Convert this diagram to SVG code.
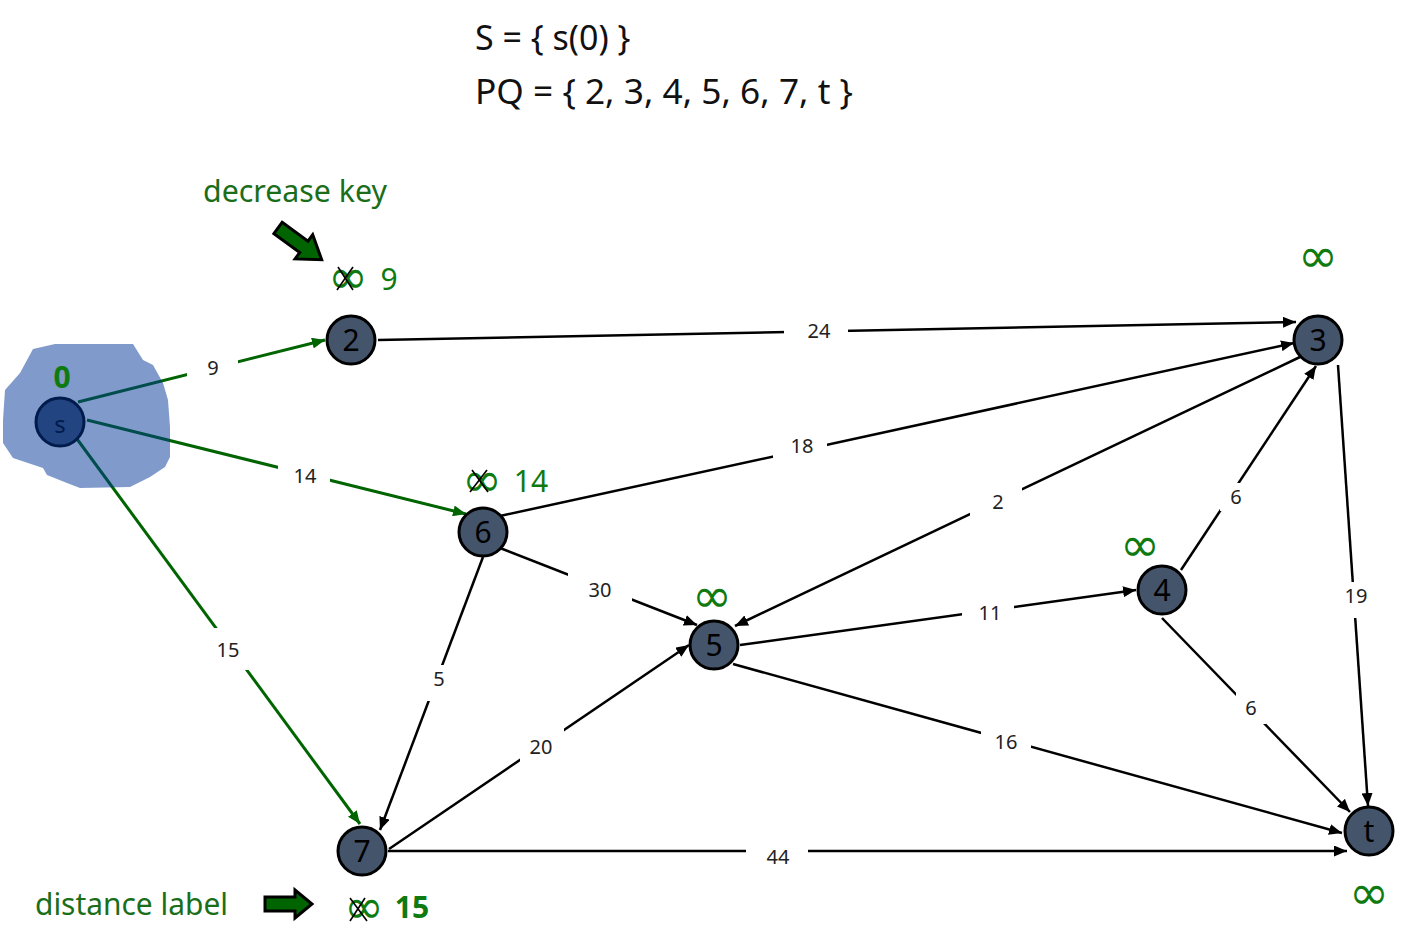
<svg xmlns="http://www.w3.org/2000/svg" width="1408" height="951" viewBox="0 0 1408 951">
<style>
.title{font-family:"Noto Sans","Liberation Sans",sans-serif;font-size:34px;fill:#111}
.note{font-family:"Noto Sans","Liberation Sans",sans-serif;font-size:30px;fill:#1a6e1a}
.e{stroke:#000;stroke-width:2.5;fill:none;marker-end:url(#ah)}
.g{stroke:#006400;stroke-width:3;fill:none;marker-end:url(#gh)}
.lbg{fill:#fff}
.lbl{font-family:"Noto Sans","Liberation Sans",sans-serif;font-size:20px;fill:#222;text-anchor:middle}
.node circle{fill:#44546A;stroke:#000;stroke-width:3}
.node text{font-family:"Noto Sans","Liberation Sans",sans-serif;font-size:30px;fill:#000;text-anchor:middle}
.inf{font-family:"DejaVu Sans",sans-serif;font-size:48px;fill:#0f7a0f;text-anchor:middle}
.dist{font-family:"Noto Sans","Liberation Sans",sans-serif;font-size:30px;fill:#0f7a0f;text-anchor:middle}
.x{stroke:#000;stroke-width:1.6}
.fat{fill:#006400;stroke:#000;stroke-width:3;stroke-linejoin:miter}
</style>
<defs>
<marker id="ah" markerUnits="userSpaceOnUse" markerWidth="13" markerHeight="11" refX="13" refY="5.5" orient="auto"><path d="M0,0 L13,5.5 L0,11 z" fill="#000"/></marker>
<marker id="gh" markerUnits="userSpaceOnUse" markerWidth="13" markerHeight="11" refX="13" refY="5.5" orient="auto"><path d="M0,0 L13,5.5 L0,11 z" fill="#006400"/></marker>
</defs>
<rect width="1408" height="951" fill="#fff"/>

<g id="title">
<text class="title" x="475" y="50">S = { s(0) }</text>
<text class="title" x="475" y="104" textLength="378" lengthAdjust="spacingAndGlyphs">PQ = { 2, 3, 4, 5, 6, 7, t }</text>
</g>

<g id="connectors">
<line class="g" x1="78" y1="402" x2="325" y2="340"/>
<line class="g" x1="87" y1="420" x2="466" y2="514"/>
<line class="g" x1="77" y1="439" x2="360" y2="824"/>
<line class="e" x1="378" y1="340" x2="1296" y2="322"/>
<line class="e" x1="500" y1="516" x2="1294" y2="343"/>
<line class="e" x1="1300" y1="357" x2="735" y2="626"/>
<line class="e" x1="500" y1="548" x2="697" y2="625"/>
<line class="e" x1="483" y1="557" x2="380" y2="830"/>
<line class="e" x1="389" y1="849" x2="689" y2="645"/>
<line class="e" x1="740" y1="645" x2="1136" y2="590"/>
<line class="e" x1="1181" y1="570" x2="1316" y2="366"/>
<line class="e" x1="1338" y1="365" x2="1368" y2="806"/>
<line class="e" x1="1162" y1="618" x2="1350" y2="812"/>
<line class="e" x1="733" y1="664" x2="1342" y2="833"/>
<line class="e" x1="388" y1="851" x2="1347" y2="851"/>
<g id="edge-labels">
<rect class="lbg" x="187" y="352" width="51" height="30"/><text class="lbl" x="213" y="375">9</text>
<rect class="lbg" x="278" y="460" width="52" height="30"/><text class="lbl" x="305" y="483">14</text>
<rect class="lbg" x="206" y="628" width="44" height="42"/><text class="lbl" x="228" y="657">15</text>
<rect class="lbg" x="784" y="317" width="64" height="28"/><text class="lbl" x="819" y="338">24</text>
<rect class="lbg" x="773" y="432" width="54" height="28"/><text class="lbl" x="802" y="453">18</text>
<rect class="lbg" x="970" y="484" width="52" height="36"/><text class="lbl" x="998" y="509">2</text>
<rect class="lbg" x="568" y="572" width="64" height="36"/><text class="lbl" x="600" y="597">30</text>
<rect class="lbg" x="425" y="665" width="28" height="36"/><text class="lbl" x="439" y="686">5</text>
<rect class="lbg" x="520" y="728" width="44" height="36"/><text class="lbl" x="541" y="754">20</text>
<rect class="lbg" x="962" y="599" width="52" height="28"/><text class="lbl" x="990" y="620">11</text>
<rect class="lbg" x="1220" y="483" width="32" height="28"/><text class="lbl" x="1236" y="504">6</text>
<rect class="lbg" x="1338" y="582" width="38" height="36"/><text class="lbl" x="1356" y="603">19</text>
<rect class="lbg" x="1236" y="692" width="30" height="32"/><text class="lbl" x="1251" y="715">6</text>
<rect class="lbg" x="981" y="728" width="50" height="28"/><text class="lbl" x="1006" y="749">16</text>
<rect class="lbg" x="746" y="843" width="62" height="28"/><text class="lbl" x="778" y="864">44</text>
</g>
</g>

<g id="node-s" class="node"><circle cx="60" cy="422" r="24"/><text x="60" y="433" style="font-size:24px">s</text></g>
<g id="source-set"><path d="M33,349 L55,344 L133,344 L143,360 L153,365 L163,383 L168,400 L170,427 L170,457 L165,467 L150,477 L130,487 L80,488 L67,483 L47,475 L43,468 L13,458 L3,443 L3,420 L5,390 L20,373 Z" fill="#003597" fill-opacity="0.5"/></g>
<text class="dist" x="62" y="388" style="font-weight:bold">0</text>

<g id="node-2" class="node"><circle cx="351" cy="340" r="24"/><text x="351" y="351">2</text></g>
<g id="node-3" class="node"><circle cx="1318" cy="340" r="24"/><text x="1318" y="351">3</text></g>
<g id="node-6" class="node"><circle cx="483" cy="532" r="24"/><text x="483" y="543">6</text></g>
<g id="node-5" class="node"><circle cx="714" cy="645" r="24"/><text x="714" y="656">5</text></g>
<g id="node-4" class="node"><circle cx="1162" cy="590" r="24"/><text x="1162" y="601">4</text></g>
<g id="node-7" class="node"><circle cx="362" cy="851" r="24"/><text x="362" y="862">7</text></g>
<g id="node-t" class="node"><circle cx="1369" cy="831" r="24"/><text x="1369" y="842">t</text></g>

<g id="distances">
<text class="inf" x="1318" y="272">∞</text>
<text class="inf" x="1140" y="561">∞</text>
<text class="inf" x="712" y="612">∞</text>
<text class="inf" x="1369" y="909">∞</text>
<text class="inf" x="348" y="293">∞</text>
<line class="x" x1="338" y1="267" x2="353" y2="290"/><line class="x" x1="353" y1="267" x2="337" y2="290"/>
<text class="dist" x="389" y="290">9</text>
<text class="inf" x="482" y="496">∞</text>
<line class="x" x1="472" y1="470" x2="488" y2="492"/><line class="x" x1="487" y1="470" x2="470" y2="492"/>
<text class="dist" x="531" y="492">14</text>
<text class="inf" x="364" y="923">∞</text>
<line class="x" x1="350" y1="898" x2="367" y2="921"/><line class="x" x1="365" y1="898" x2="350" y2="921"/>
<text class="dist" x="412" y="918" style="font-weight:bold">15</text>
</g>

<g id="annotations">
<text class="note" x="203" y="202" textLength="184" lengthAdjust="spacingAndGlyphs">decrease key</text>
<path class="fat" transform="translate(278,228) rotate(36)" d="M0,-7 L32,-7 L32,-15 L54,0 L32,15 L32,7 L0,7 Z"/>
<text class="note" x="35" y="915" textLength="193" lengthAdjust="spacingAndGlyphs">distance label</text>
<path class="fat" d="M265,897 L295,897 L295,890 L312,904 L295,918 L295,911 L265,911 Z"/>
</g>
</svg>
